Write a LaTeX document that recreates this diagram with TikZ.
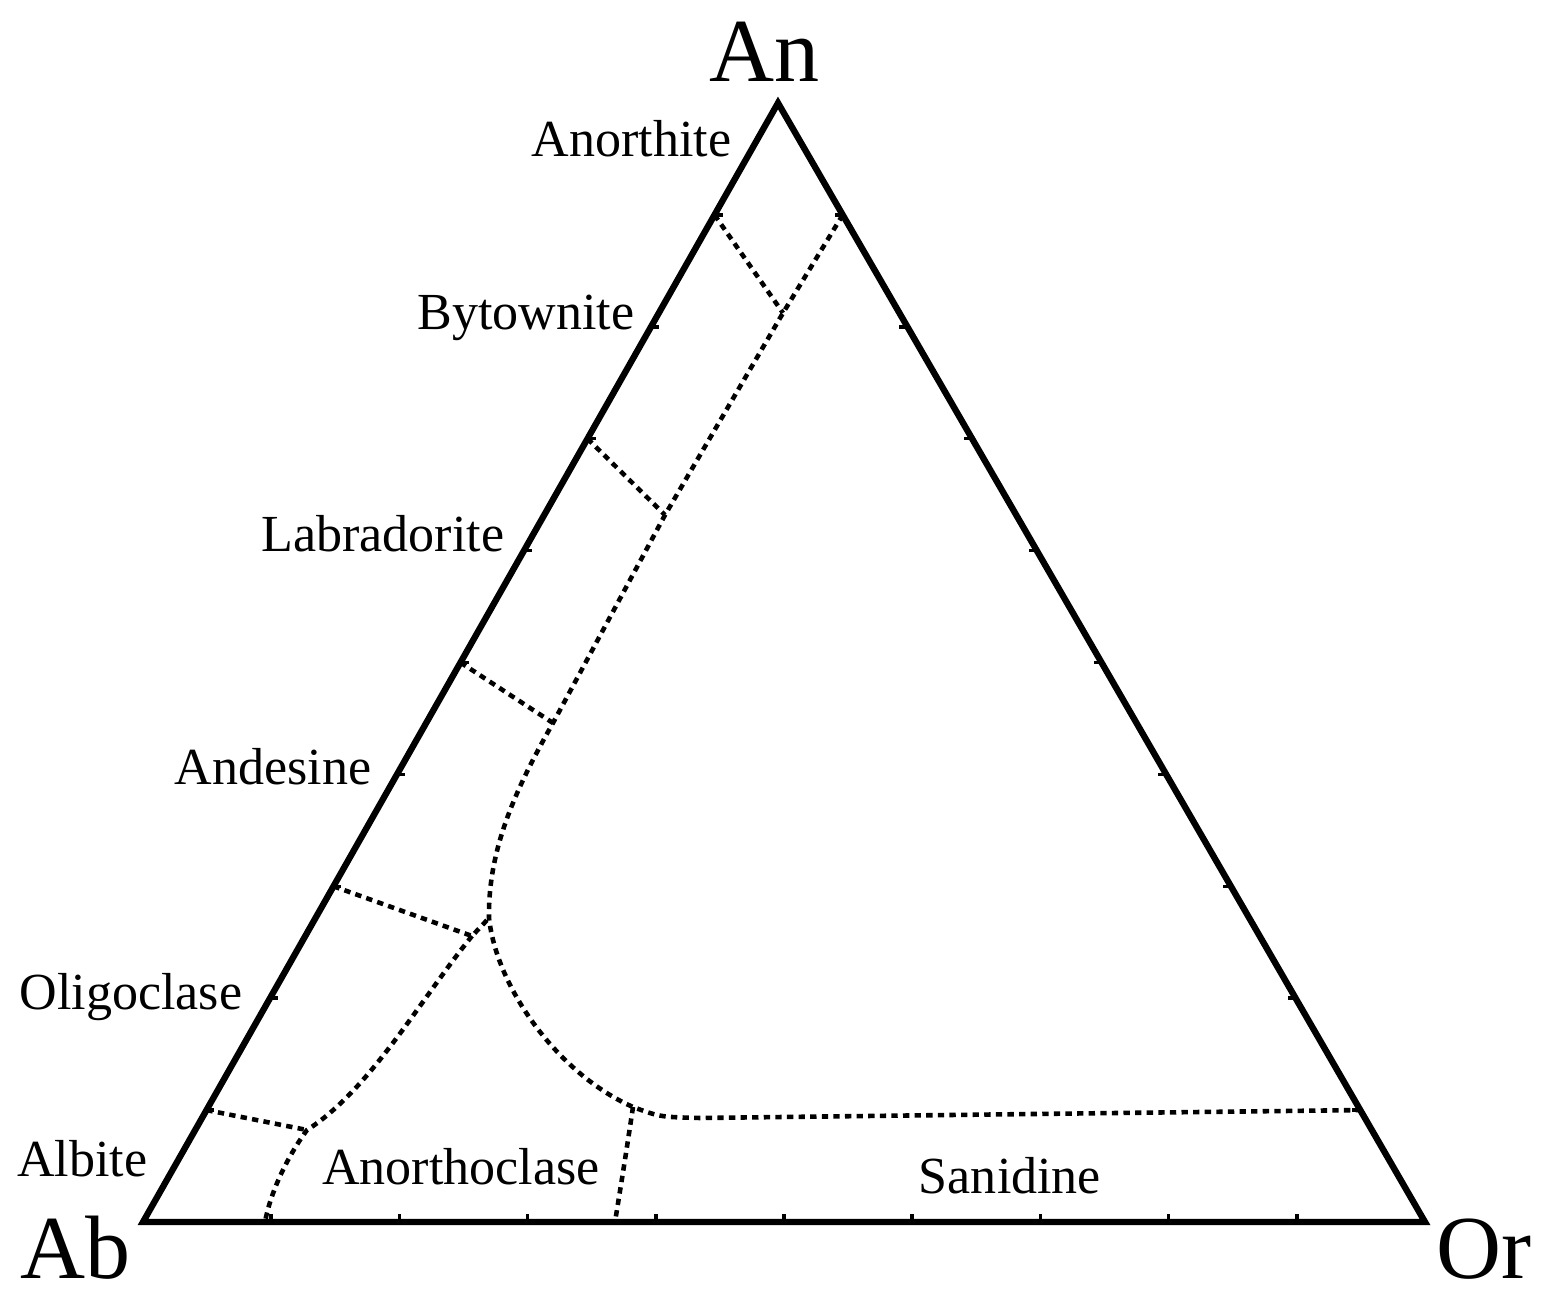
\documentclass[tikz,border=0pt]{standalone}
\usepackage{fontspec}
\setmainfont{Liberation Serif}
\usetikzlibrary{calc}

\tikzset{
  side/.style={line width=1.8pt, line join=miter},
  tickmark/.style={line width=1pt},
  bound/.style={line width=1.3pt, dash pattern=on 1.8pt off 1.5pt},
  mineral/.style={inner sep=0pt, font=\fontsize{14.8}{17}\selectfont},
  apex/.style={inner sep=0pt, font=\fontsize{25.6}{30}\selectfont}
}

\begin{document}
\begin{tikzpicture}[x=0.01cm, y=-0.01cm]
	\useasboundingbox (0,0) rectangle (1542,1298);

	%% corners of the ternary diagram
	\coordinate (Ab) at (143,1222);
	\coordinate (Or) at (1425,1222);
	\coordinate (An) at (778,103);

	%% points on the sides (10 % steps)
	\coordinate (L1) at ($(Ab)!0.1!(An)$);
	\coordinate (L3) at ($(Ab)!0.3!(An)$);
	\coordinate (L5) at ($(Ab)!0.5!(An)$);
	\coordinate (L7) at ($(Ab)!0.7!(An)$);
	\coordinate (L9) at ($(Ab)!0.9!(An)$);
	\coordinate (R1) at ($(An)!0.1!(Or)$);
	\coordinate (R9) at ($(An)!0.9!(Or)$);
	\coordinate (B1) at (265,1222);
	\coordinate (B2) at (615,1222);

	%% inner junctions
	\coordinate (J1) at (783,313);
	\coordinate (J2) at (665,515);
	\coordinate (J3) at (553,723);
	\coordinate (J4) at (489,918);
	\coordinate (J5) at (633,1107);
	\coordinate (J6) at (472,936);
	\coordinate (J7) at (307,1130);
	\coordinate (J8) at (700,1118);

	%% triangle
	\draw[side] (Ab) -- (Or) -- (An) -- cycle;

	%% ticks
	\foreach \i in {1,...,9}{
	  \draw[tickmark] ($(Ab)!\i/10!(An)$) -- ++(8,0);
	  \draw[tickmark] ($(An)!\i/10!(Or)$) -- ++(-8,0);
	  \draw[tickmark] ($(Ab)!\i/10!(Or)$) -- ++(0,-8);
	}

	%% field boundaries
	\draw[bound] (R1) -- (J1) -- (J2) -- (J3)
	  .. controls (515,790) and (488,850) .. (J4)
	  .. controls (497,990) and (560,1075) .. (J5)
	  .. controls (660,1117) .. (J8) -- (R9);
	\draw[bound] (L9) -- (J1);
	\draw[bound] (L7) -- (J2);
	\draw[bound] (L5) -- (J3);
	\draw[bound] (L3) -- (J6) -- (J4);
	\draw[bound] (L1) -- (J7);
	\draw[bound] (J6) .. controls (420,1000) and (370,1090) .. (J7)
	  .. controls (285,1160) and (270,1195) .. (B1);
	\draw[bound] (J5) .. controls (625,1160) .. (B2);

	%% labels
	\node[apex, anchor=base] (tAn) at (765,82) {An};
	\node[apex, anchor=base west] (tAb) at (20,1278) {Ab};
	\node[apex, anchor=base west] (tOr) at (1436,1278) {Or};

	\node[mineral, anchor=base east] (anorthite) at (732,157) {Anorthite};
	\node[mineral, anchor=base east] (bytownite) at (635,330) {Bytownite};
	\node[mineral, anchor=base east] (labradorite) at (505,552) {Labradorite};
	\node[mineral, anchor=base east] (andesine) at (372,785) {Andesine};
	\node[mineral, anchor=base east] (oligoclase) at (243,1010) {Oligoclase};
	\node[mineral, anchor=base east] (albite) at (148,1177) {Albite};
	\node[mineral, anchor=base] (anorthoclase) at (461,1185) {Anorthoclase};
	\node[mineral, anchor=base] (sanidine) at (1010,1193) {Sanidine};
\end{tikzpicture}
\end{document}
